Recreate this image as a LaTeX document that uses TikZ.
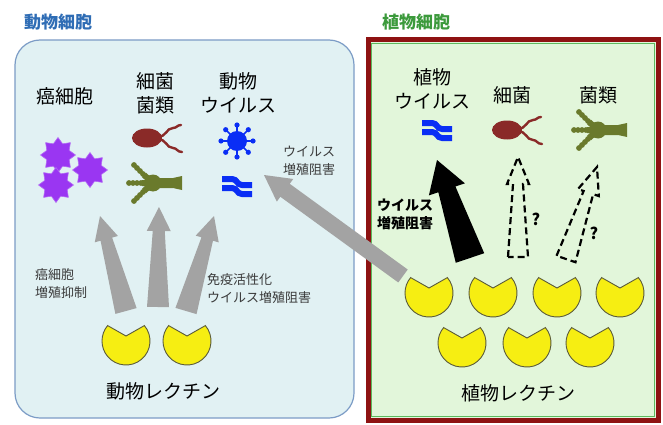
\documentclass[tikz,border=0pt]{standalone}
\usepackage{fontspec}
\newfontfamily\jp{Noto Sans CJK JP}
\usetikzlibrary{calc,shapes.geometric}

\definecolor{animalfill}{HTML}{E1F1F3}
\definecolor{animalline}{HTML}{7C9CC6}
\definecolor{animaltitle}{HTML}{2F6DB5}
\definecolor{plantfill}{HTML}{E2F6DA}
\definecolor{plantred}{HTML}{8E1212}
\definecolor{plantgreen}{HTML}{5DB85D}
\definecolor{planttitle}{HTML}{3C9A3C}
\definecolor{arrowgray}{HTML}{A3A3A3}
\definecolor{lectinyellow}{HTML}{F6EE12}
\definecolor{lectinline}{HTML}{5A5A3A}
\definecolor{cellpurple}{HTML}{9A36F2}
\definecolor{virusblue}{HTML}{0A2EF5}
\definecolor{bactred}{HTML}{8A2A28}
\definecolor{fungusgreen}{HTML}{6A7A2C}
\definecolor{labelgray}{HTML}{3A3A3A}

\tikzset{
  celltitle/.style={font=\jp\bfseries\fontsize{17}{20}\selectfont, inner sep=0pt, anchor=west},
  biglabel/.style={font=\jp\fontsize{19}{24}\selectfont, align=center, inner sep=0pt},
  smalllabel/.style={font=\jp\fontsize{13}{18}\selectfont, align=left, anchor=west, inner sep=0pt, text=labelgray},
  strongnote/.style={font=\jp\bfseries\fontsize{14}{18}\selectfont, align=left, anchor=west, inner sep=0pt},
  qmark/.style={font=\jp\bfseries\fontsize{16}{18}\selectfont, inner sep=0pt},
  cancer/.style={star, star points=8, star point ratio=1.45, minimum size=35pt, inner sep=0pt,
                 fill=cellpurple, draw=cellpurple!75!white, line width=0.6pt},
  lectin/.style={fill=lectinyellow, draw=lectinline, line width=0.9pt},
  grayarrow/.style={fill=arrowgray},
  dasharrow/.style={draw=black, line width=2.2pt, dash pattern=on 7pt off 4pt, line join=miter},
}

% tapered arrow: [style]{start}{tip}{base half width}{neck half width}{head half width}{head length}
\newcommand\fatarrow[7][]{%
  \coordinate (fa-h) at ($(#3)!#7!(#2)$);
  \path[#1] ($(#2)!#4!90:(#3)$) -- ($(fa-h)!#5!90:(#3)$) -- ($(fa-h)!#6!90:(#3)$) -- (#3)
    -- ($(fa-h)!#6!-90:(#3)$) -- ($(fa-h)!#5!-90:(#3)$) -- ($(#2)!#4!-90:(#3)$) -- cycle;
}
% lectin molecule with its notch opening upwards (drawn with the y axis pointing up)
\newcommand\lectinat[1]{%
  \begin{scope}[y=1pt]
    \draw[lectin] ($(#1)+(0,5)$) -- ($(#1)+(40:24pt)$) arc[start angle=40, end angle=-220, radius=24pt] -- cycle;
  \end{scope}
}
\newcommand\virusat[1]{%
  \foreach \a in {0,45,...,315}{%
    \draw[virusblue, line width=1.6pt] (#1) -- ($(#1)+(\a:15pt)$);
    \fill[virusblue] ($(#1)+(\a:16pt)$) circle[radius=2.6pt];
  }
  \fill[virusblue] (#1) circle[radius=10pt];
}
\newcommand\squiggleat[1]{%
  \foreach \dy in {0,9}{%
    \draw[virusblue, line width=6pt] ($(#1)+(-15,-7+\dy)$) -- ++(10,0)
      .. controls +(5,0) and +(-5,0) .. ++(10,6) -- ++(10,0);
  }
}
\newcommand\bacteriumat[1]{%
  \draw[bactred, line width=2.4pt, line cap=round]
    ($(#1)+(10,-1)$) .. controls ($(#1)+(20,-1)$) and ($(#1)+(19,-10)$) .. ($(#1)+(26,-10)$)
    .. controls ($(#1)+(30,-10)$) and ($(#1)+(30,-13)$) .. ($(#1)+(34,-13)$);
  \draw[bactred, line width=2.4pt, line cap=round]
    ($(#1)+(10,1)$) .. controls ($(#1)+(20,1)$) and ($(#1)+(19,10)$) .. ($(#1)+(26,10)$)
    .. controls ($(#1)+(30,10)$) and ($(#1)+(30,14)$) .. ($(#1)+(35,14)$);
  \fill[bactred] (#1) ellipse[x radius=15pt, y radius=9.5pt];
}
\newcommand\fungusat[1]{%
  \begin{scope}[shift={(#1)}, fungusgreen]
    \fill (2,-5) -- (20,-5) -- (29,-7) -- (29,7) -- (20,5) -- (2,5) -- cycle;
    \fill (0,0) circle[radius=8.5pt];
    \draw[line width=6pt] (0,0) -- (-9,-8) (0,0) -- (-11,0) (0,0) -- (-9,8);
    \foreach \t in {0,1,2,3}{%
      \fill (-10-3*\t,-9-3*\t) circle[radius=2.9pt];
      \fill (-12-4*\t,0) circle[radius=2.9pt];
      \fill (-10-3*\t,9+3*\t) circle[radius=2.9pt];
    }
  \end{scope}
}

\begin{document}
\begin{tikzpicture}[x=1pt, y=-1pt]
\useasboundingbox (0,0) rectangle (663,425);
\fill[white] (0,0) rectangle (663,425);

% ---------- animal cell ----------
\draw[draw=animalline, fill=animalfill, line width=1.2pt, rounded corners=25pt] (15,40) rectangle (354,418);
\node[celltitle, text=animaltitle] (animaltitle) at (24,22) {動物細胞};

% ---------- plant cell ----------
\fill[plantfill] (366,38) rectangle (660,422);
\draw[plantred, line width=5pt] (368,40) rectangle (658,420);
\draw[plantgreen, line width=1.2pt] (371.5,43.5) rectangle (654.5,416.5);
\node[celltitle, text=planttitle] (planttitle) at (382,22) {植物細胞};

% ---------- targets in the animal cell ----------
\node[biglabel] (cancerlabel) at (65,96) {癌細胞};
\node[biglabel] (microlabel) at (155,93) {細菌\\菌類};
\node[biglabel] (avirlabel) at (238,93) {動物\\ウイルス};

\node[cancer] (star1) at (58,155) {};
\node[cancer] (star2) at (90,170) {};
\node[cancer] (star3) at (56,185) {};

\coordinate (abact) at (147,138);
\bacteriumat{abact}
\coordinate (afungus) at (153,183);
\fungusat{afungus}
\coordinate (avirus) at (237,141);
\virusat{avirus}
\coordinate (asquig) at (237,186);
\squiggleat{asquig}

% ---------- targets in the plant cell ----------
\node[biglabel] (pvirlabel) at (432,89) {植物\\ウイルス};
\node[biglabel] (pbactlabel) at (512,95) {細菌};
\node[biglabel] (pfunglabel) at (598,95) {菌類};

\coordinate (psquig) at (437,130);
\squiggleat{psquig}
\coordinate (pbact) at (507,130);
\bacteriumat{pbact}
\coordinate (pfungus) at (598,130);
\fungusat{pfungus}

% ---------- arrows ----------
\coordinate (g1s) at (126,311); \coordinate (g1e) at (100,216);
\coordinate (g2s) at (158,307); \coordinate (g2e) at (159,207);
\coordinate (g3s) at (186,311); \coordinate (g3e) at (214,216);
\fatarrow[grayarrow]{g1s}{g1e}{11pt}{6pt}{12pt}{24pt}
\fatarrow[grayarrow]{g2s}{g2e}{11pt}{6pt}{12pt}{24pt}
\fatarrow[grayarrow]{g3s}{g3e}{11pt}{6pt}{12pt}{24pt}

\coordinate (gls) at (403,276); \coordinate (gle) at (264,175);
\fatarrow[grayarrow]{gls}{gle}{8pt}{8pt}{14pt}{26pt}

\coordinate (bks) at (470,258); \coordinate (bke) at (437,160);
\fatarrow[fill=black]{bks}{bke}{15pt}{9pt}{19pt}{31pt}

\coordinate (d1s) at (518,257); \coordinate (d1e) at (518,157);
\fatarrow[dasharrow]{d1s}{d1e}{10pt}{5pt}{11pt}{27pt}
\coordinate (d2s) at (566,259); \coordinate (d2e) at (597,167);
\fatarrow[dasharrow]{d2s}{d2e}{10pt}{5pt}{11pt}{27pt}

\node[qmark] (q1) at (536,219) {?};
\node[qmark] (q2) at (594,233) {?};

% ---------- effect labels ----------
\node[smalllabel] (virinh) at (283,161) {ウイルス\\増殖阻害};
\node[smalllabel] (cancinh) at (35,284) {癌細胞\\増殖抑制};
\node[smalllabel] (immune) at (207,289) {免疫活性化\\ウイルス増殖阻害};
\node[strongnote] (pvirinh) at (377,214) {ウイルス\\増殖阻害};

% ---------- lectins ----------
\coordinate (al1) at (126,341); \lectinat{al1}
\coordinate (al2) at (187,341); \lectinat{al2}
\node[biglabel] (animallectin) at (163,391) {動物レクチン};

\coordinate (pl1) at (429,293); \lectinat{pl1}
\coordinate (pl2) at (493,293); \lectinat{pl2}
\coordinate (pl3) at (557,293); \lectinat{pl3}
\coordinate (pl4) at (620,293); \lectinat{pl4}
\coordinate (pl5) at (462,343); \lectinat{pl5}
\coordinate (pl6) at (527,343); \lectinat{pl6}
\coordinate (pl7) at (590,343); \lectinat{pl7}
\node[biglabel] (plantlectin) at (518,393) {植物レクチン};
\end{tikzpicture}
\end{document}
